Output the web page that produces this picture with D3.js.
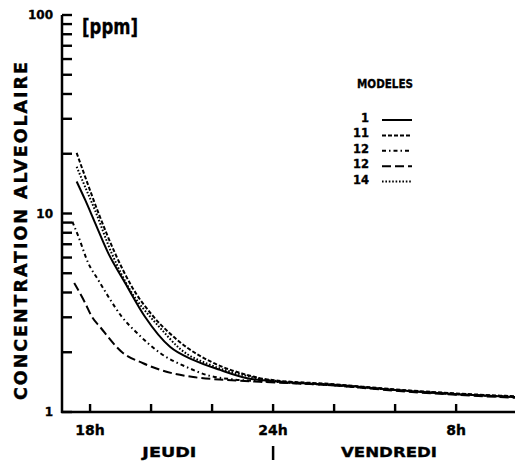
<!DOCTYPE html>
<html>
<head>
<meta charset="utf-8">
<script src="https://cdn.jsdelivr.net/npm/d3@7"></script>
<style>
  html, body { margin: 0; padding: 0; background: #fff; }
  svg { display: block; }
  text { font-family: "DejaVu Sans", "Liberation Sans", sans-serif; font-weight: bold; fill: #000; stroke: #000; stroke-width: 0.35px; }
</style>
</head>
<body>
<svg id="chart" width="515" height="464"></svg>
<script>
// Hours counted from Thursday 18h; axis ticks every 2 hours.
const xTickValues = [0, 2, 4, 6, 8, 10, 12];
const xTickLabels = ["18h", "", "", "24h", "", "", "8h"];
const dayLabels = ["JEUDI", "VENDREDI"];
const dayLabelHours = [2.6, 9.8];

// Log axis ticks (ppm)
const yTickValues = [1, 2, 3, 4, 5, 6, 7, 8, 9, 10, 20, 30, 40, 50, 60, 70, 80, 90, 100];
const yLabelled = [1, 10, 100];

// Model curves: hours and alveolar concentration (ppm)
const modelNames = ["1", "11", "12", "12", "14"];

const hoursM1 = [-0.44, -0.16, 0.16, 0.6, 1.15, 1.8, 2.62, 3.38, 4.26, 5.15, 6, 8, 10, 12, 13.93];
const concM1  = [14.5, 11.7, 9.0, 6.3, 4.47, 3.02, 2.13, 1.83, 1.63, 1.48, 1.43, 1.37, 1.29, 1.23, 1.19];

const hoursM11 = [-0.44, -0.16, 0.27, 0.82, 1.37, 2.08, 2.6, 3.2, 4.0, 5.0, 5.8, 8, 10, 12, 13.93];
const concM11  = [20.2, 15.3, 10.1, 6.3, 4.28, 3.02, 2.5, 2.1, 1.78, 1.56, 1.46, 1.38, 1.30, 1.24, 1.20];

const hoursM12a = [-0.58, -0.38, -0.06, 0.27, 0.6, 1.04, 1.54, 2.3, 3.18, 3.93, 4.69, 6, 8, 10, 12, 13.93];
const concM12a  = [9.1, 7.64, 5.63, 4.62, 3.81, 3.02, 2.5, 1.98, 1.68, 1.52, 1.46, 1.42, 1.36, 1.29, 1.23, 1.19];

const hoursM12b = [-0.52, -0.16, 0.06, 0.33, 1.05, 1.74, 2.3, 3.38, 4.49, 5.57, 8, 10, 12, 13.93];
const concM12b  = [4.47, 3.54, 3.02, 2.68, 2.0, 1.76, 1.63, 1.50, 1.45, 1.42, 1.36, 1.28, 1.22, 1.18];

const hoursM14 = [-0.44, -0.16, 0.16, 0.71, 1.37, 1.97, 2.3, 2.95, 3.93, 4.92, 5.7, 8, 10, 12, 13.93];
const concM14  = [17.2, 13.6, 10.4, 6.3, 3.98, 3.02, 2.65, 2.08, 1.73, 1.55, 1.46, 1.37, 1.29, 1.23, 1.19];

const dashes = ["none", "4,2", "4,3,1.5,3", "9,4", "1.6,1.8"];

const series = [
  { name: modelNames[0], hours: hoursM1,   conc: concM1,   dash: dashes[0] },
  { name: modelNames[1], hours: hoursM11,  conc: concM11,  dash: dashes[1] },
  { name: modelNames[2], hours: hoursM12a, conc: concM12a, dash: dashes[2] },
  { name: modelNames[3], hours: hoursM12b, conc: concM12b, dash: dashes[3] },
  { name: modelNames[4], hours: hoursM14,  conc: concM14,  dash: dashes[4] }
];

const svg = d3.select("#chart");
const plot = { left: 62, right: 515, top: 15, bottom: 412 };

const x = d3.scaleLinear().domain([-0.92, 13.93]).range([plot.left, plot.right]);
const y = d3.scaleLog().domain([1, 100]).range([plot.bottom, plot.top]);

// Curves
const line = d3.line()
  .x(d => x(d[0]))
  .y(d => y(d[1]))
  .curve(d3.curveMonotoneX);

svg.append("g").selectAll("path")
  .data(series)
  .join("path")
  .attr("d", s => line(s.hours.map((h, i) => [h, s.conc[i]])))
  .attr("fill", "none")
  .attr("stroke", "#000")
  .attr("stroke-width", 2)
  .attr("stroke-dasharray", s => s.dash);

// Axis frame
svg.append("path")
  .attr("d", `M${plot.left},${y(100)}V${plot.bottom + 1}M${plot.left - 1},${plot.bottom}H${plot.right}`)
  .attr("fill", "none")
  .attr("stroke", "#000")
  .attr("stroke-width", 2.5);

// Inward ticks on both axes
svg.append("g").selectAll("rect")
  .data(yTickValues)
  .join("rect")
  .attr("x", plot.left)
  .attr("y", d => y(d) - 1.2)
  .attr("width", 10)
  .attr("height", 2.4)
  .attr("fill", "#000");

svg.append("g").selectAll("rect")
  .data(xTickValues)
  .join("rect")
  .attr("x", d => x(d) - 1.2)
  .attr("y", plot.bottom - 8)
  .attr("width", 2.4)
  .attr("height", 8)
  .attr("fill", "#000");

svg.append("g").selectAll("text")
  .data(yLabelled)
  .join("text")
  .attr("x", plot.left - 9)
  .attr("y", d => y(d))
  .attr("dy", "0.35em")
  .attr("text-anchor", "end")
  .style("font-size", "12px")
  .text(d => String(d));

svg.append("g").selectAll("text")
  .data(xTickValues)
  .join("text")
  .attr("x", d => x(d))
  .attr("y", 435)
  .attr("text-anchor", "middle")
  .style("font-size", "14px")
  .text((d, i) => xTickLabels[i]);

// Day labels and midnight separator
const dayWidths = [54, 96];
svg.append("g").selectAll("text")
  .data(dayLabels)
  .join("text")
  .attr("x", (d, i) => x(dayLabelHours[i]) - dayWidths[i] / 2)
  .attr("y", 457)
  .attr("textLength", (d, i) => dayWidths[i])
  .attr("lengthAdjust", "spacingAndGlyphs")
  .style("font-size", "14px")
  .text(d => d);

svg.append("line")
  .attr("x1", x(6)).attr("x2", x(6))
  .attr("y1", 446).attr("y2", 460)
  .attr("stroke", "#000").attr("stroke-width", 2.5);

// Y title and unit
svg.append("text")
  .attr("transform", `translate(27,${(62 + 400) / 2}) rotate(-90)`)
  .attr("text-anchor", "middle")
  .attr("textLength", 338)
  .attr("lengthAdjust", "spacing")
  .style("font-size", "17.5px")
  .text("CONCENTRATION ALVEOLAIRE");

svg.append("text")
  .attr("x", 82)
  .attr("y", 34)
  .attr("textLength", 56)
  .attr("lengthAdjust", "spacingAndGlyphs")
  .style("font-size", "21px")
  .text("[ppm]");

// Legend
const legend = svg.append("g");
legend.append("text")
  .attr("x", 357).attr("y", 88)
  .attr("textLength", 56)
  .attr("lengthAdjust", "spacingAndGlyphs")
  .style("font-size", "12px")
  .text("MODELES");

const rows = legend.selectAll("g.row")
  .data(series)
  .join("g")
  .attr("class", "row")
  .attr("transform", (d, i) => `translate(0,${122 + i * 15.4})`);

rows.append("text")
  .attr("x", 369).attr("y", 0)
  .attr("text-anchor", "end")
  .style("font-size", "11.5px")
  .text(d => d.name);

rows.append("line")
  .attr("x1", 382).attr("x2", 412)
  .attr("y1", -2).attr("y2", -2)
  .attr("stroke", "#000")
  .attr("stroke-width", 2)
  .attr("stroke-dasharray", d => d.dash);
</script>
</body>
</html>
